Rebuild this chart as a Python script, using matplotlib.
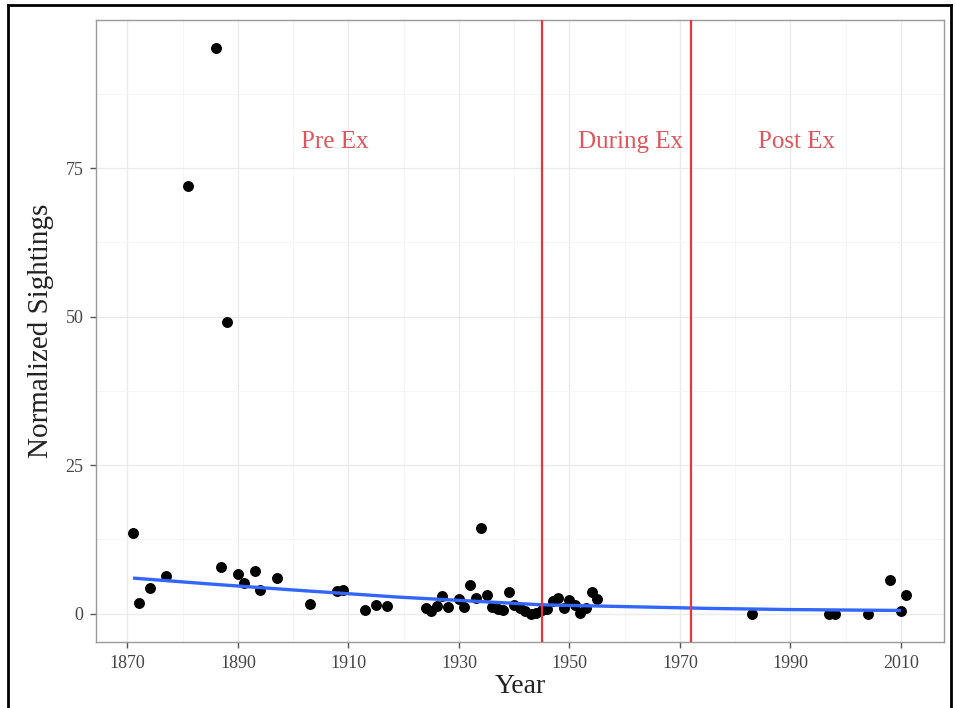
import matplotlib
matplotlib.use("Agg")
import matplotlib.pyplot as plt
from matplotlib.lines import Line2D

years = [1871, 1872, 1874, 1877, 1881, 1886, 1887, 1888, 1890, 1891, 1893, 1894,
         1897, 1903, 1908, 1909, 1913, 1915, 1917, 1924, 1925, 1926, 1927, 1928,
         1930, 1931, 1932, 1933, 1934, 1935, 1936, 1937, 1938, 1939, 1940, 1941,
         1942, 1943, 1944, 1945, 1946, 1947, 1948, 1949, 1950, 1951, 1952, 1953,
         1954, 1955, 1983, 1997, 1998, 2004, 2008, 2010, 2011]
sightings = [13.6, 1.8, 4.3, 6.4, 72.0, 95.2, 7.9, 49.1, 6.7, 5.2, 7.2, 4.0,
             6.0, 1.6, 3.8, 4.0, 0.7, 1.4, 1.3, 0.9, 0.4, 1.3, 3.0, 1.1,
             2.5, 1.1, 4.8, 2.6, 14.4, 3.2, 1.1, 0.8, 0.6, 3.6, 1.5, 0.9,
             0.5, 0.0, 0.2, 0.7, 0.8, 2.2, 2.6, 1.0, 2.3, 1.5, 0.1, 1.0,
             3.6, 2.5, 0.0, 0.0, 0.0, 0.0, 5.6, 0.4, 3.2]

trend_years = [1871, 1885, 1900, 1919, 1935, 1945, 1960, 1975, 1990, 2010]
trend_values = [6.0, 5.0, 4.0, 2.8, 2.0, 1.5, 1.2, 0.9, 0.7, 0.55]

period_breaks = [1945, 1972]
period_labels = ["Pre Ex", "During Ex", "Post Ex"]
period_label_x = [1907.5, 1961, 1991]
period_label_y = 79.5

x_ticks = [1870, 1890, 1910, 1930, 1950, 1970, 1990, 2010]
y_ticks = [0, 25, 50, 75]

serif = ["Liberation Serif", "DejaVu Serif"]
plt.rcParams["font.family"] = serif

fig = plt.figure(figsize=(9.55, 7.08), dpi=100)
ax = fig.add_axes([96 / 955, 66 / 708, 848 / 955, 622 / 708])

ax.set_xlim(1864.3, 2017.8)
ax.set_ylim(-4.76, 99.96)

# grid
ax.set_xticks(x_ticks)
ax.set_yticks(y_ticks)
ax.set_xticks([1880, 1900, 1920, 1940, 1960, 1980, 2000], minor=True)
ax.set_yticks([12.5, 37.5, 62.5, 87.5], minor=True)
ax.grid(which="major", color="#EBEBEB", lw=1.0, zorder=0)
ax.grid(which="minor", color="#F4F4F4", lw=0.6, zorder=0)
ax.set_axisbelow(True)

ax.scatter(years, sightings, s=62, color="black", zorder=3, linewidths=0)
ax.plot(trend_years, trend_values, color="#3366FF", lw=2.4, zorder=4,
        solid_capstyle="butt")

for b in period_breaks:
    ax.axvline(b, color="#E8363C", lw=1.6, zorder=5)

for lab, xx in zip(period_labels, period_label_x):
    ax.text(xx, period_label_y, lab, color="#E0555C", fontsize=18,
            ha="center", va="center", family=serif, zorder=6)

for sp in ax.spines.values():
    sp.set_color("#9A9A9A")
    sp.set_linewidth(1.0)

ax.tick_params(which="major", length=4, width=1, color="#555555",
               labelsize=13, labelcolor="#444444", pad=5)
ax.tick_params(which="minor", length=0)

ax.set_xlabel("Year", fontsize=20, labelpad=2, color="#222222")
ax.set_ylabel("Normalized Sightings", fontsize=21, labelpad=8, color="#222222")

# outer frame of the screenshot
fr = dict(color="black", lw=2.0, transform=fig.transFigure)
fig.add_artist(Line2D([8 / 955, 8 / 955], [0, 1 - 5 / 708], **fr))
fig.add_artist(Line2D([8 / 955, 951 / 955], [1 - 5 / 708, 1 - 5 / 708], **fr))
fig.add_artist(Line2D([951 / 955, 951 / 955], [0, 1 - 5 / 708], **fr))

fig.savefig("out.png", dpi=100)
